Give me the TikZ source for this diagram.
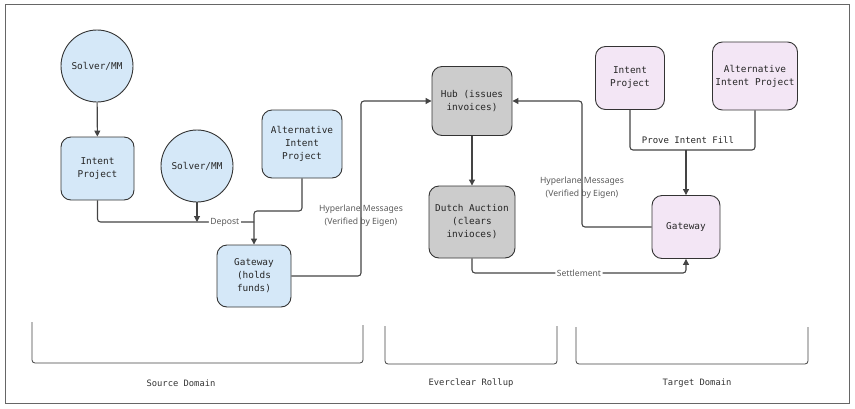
\documentclass[tikz,border=0pt]{standalone}
\usepackage{fontspec}
\setmainfont{Noto Sans}
\setmonofont{DejaVu Sans Mono}
\usepackage{tikz}
\usetikzlibrary{arrows.meta}
\definecolor{srcblue}{HTML}{D5E8F8}
\definecolor{hubgray}{HTML}{CCCCCC}
\definecolor{tgtpink}{HTML}{F3E6F5}
\definecolor{edgegray}{HTML}{444444}

\begin{document}
\begin{tikzpicture}[x=1pt,y=-1pt,
    box/.style={draw=black!80, line width=0.9pt, rounded corners=10pt, align=center,
        inner sep=0pt, text=black!85, font=\ttfamily\fontsize{9.4}{13}\selectfont},
    solver/.style={circle, draw=black!80, line width=0.9pt, fill=srcblue, minimum size=72pt,
        inner sep=0pt, text=black!85, font=\ttfamily\fontsize{9.4}{13}\selectfont},
    link/.style={draw=edgegray, line width=1.1pt, rounded corners=3pt},
    arr/.style={link, -{Triangle[length=6pt,width=6pt]}},
    msg/.style={font=\fontsize{8.6}{13}\selectfont, text=black!65, align=center},
    lbl/.style={msg, fill=white, inner sep=1.5pt},
    domaintxt/.style={font=\ttfamily\fontsize{8.8}{10}\selectfont, text=black!80},
    bracket/.style={draw=black!75, line width=0.8pt, rounded corners=3pt}]
    \useasboundingbox (0,0) rectangle (855,408);
    \draw[black!60, line width=1pt] (5,4) rectangle (849,403);

    % source domain
    \node[solver] (sol1) at (97,66) {Solver/MM};
    \node[box, fill=srcblue, minimum width=73pt, minimum height=63pt] (ip) at (97.5,168.5) {Intent\\Project};
    \node[solver] (sol2) at (197,166) {Solver/MM};
    \node[box, fill=srcblue, minimum width=80pt, minimum height=68pt] (alt) at (302,144) {Alternative\\Intent\\Project};
    \node[box, fill=srcblue, minimum width=74pt, minimum height=62pt] (gw) at (254,276) {Gateway\\(holds\\funds)};

    % everclear rollup
    \node[box, fill=hubgray, minimum width=80pt, minimum height=69pt] (hub) at (472,101) {Hub (issues\\invoices)};
    \node[box, fill=hubgray, minimum width=86pt, minimum height=72pt] (dutch) at (472,222) {Dutch Auction\\(clears\\invioces)};

    % target domain
    \node[box, fill=tgtpink, minimum width=69pt, minimum height=63pt] (tip) at (630,78) {Intent\\Project};
    \node[box, fill=tgtpink, minimum width=85pt, minimum height=68pt] (talt) at (755,76) {Alternative\\Intent Project};
    \node[box, fill=tgtpink, minimum width=68pt, minimum height=63pt] (tgw) at (686,227) {Gateway};

    \coordinate (dep) at (254,222);
    \coordinate (bend) at (254,211);
    \coordinate (msgL) at (361,215.5);
    \coordinate (msgR) at (582,187.5);
    \coordinate (setl) at (686,273);
    \coordinate (pj) at (686,150);

    \draw[arr] (sol1) -- (ip);
    \draw[link] (ip.south) |- node[lbl, pos=0.907] {Depost} (dep);
    \draw[arr] (sol2.south) -- (sol2.south |- dep);
    \draw[arr] (alt.south) |- (bend) -- (gw.north);
    \draw[arr] (gw.east) -| (msgL) |- (hub.west);
    \node[msg] (msgLtxt) at (msgL) {Hyperlane Messages\\(Verified by Eigen)};
    \draw[arr] (hub) -- (dutch);
    \draw[arr] (dutch.south) |- node[lbl, pos=0.75] {Settlement} (setl) -- (tgw.south);
    \draw[arr] (tgw.west) -| (msgR) |- (hub.east);
    \node[msg] (msgRtxt) at (msgR) {Hyperlane Messages\\(Verified by Eigen)};
    \draw[link] (tip.south) |- (pj);
    \draw[link] (talt.south) |- (pj);
    \draw[arr] (pj) -- (tgw.north);
    \node[font=\ttfamily\fontsize{9}{13}\selectfont, text=black!85] (prove) at (688,140) {Prove Intent Fill};

    % domain brackets
    \draw[bracket] (32,322) |- (363,363) -- (363,325);
    \draw[bracket] (385,326) |- (557,364) -- (557,326);
    \draw[bracket] (576,327) |- (808,364) -- (808,327);
    \node[domaintxt] (srcd) at (181,383) {Source Domain};
    \node[domaintxt] (evd) at (471,383) {Everclear Rollup};
    \node[domaintxt] (tgd) at (697,383) {Target Domain};
\end{tikzpicture}
\end{document}
